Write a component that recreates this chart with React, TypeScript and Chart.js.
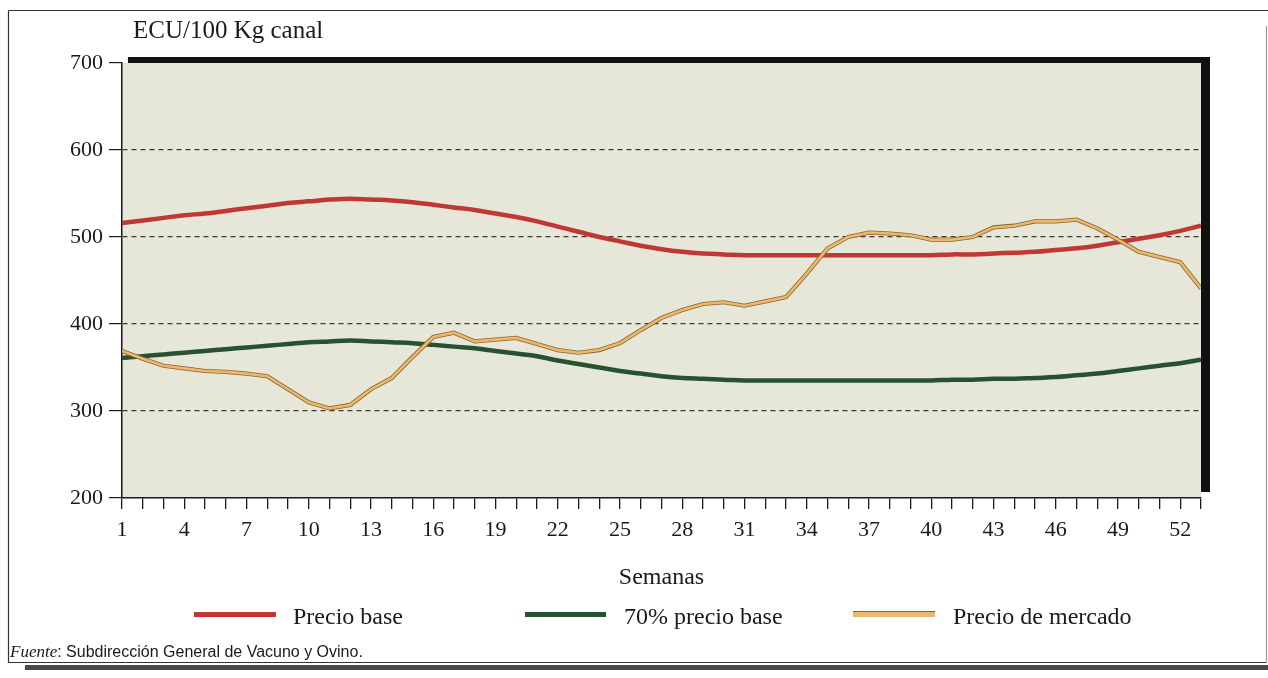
import React, { useEffect, useRef } from "react";
import { Chart, registerables } from "chart.js";

Chart.register(...registerables);

// ---- data ----
const weeks = [
  1, 2, 3, 4, 5, 6, 7, 8, 9, 10, 11, 12, 13, 14, 15, 16, 17, 18, 19, 20,
  21, 22, 23, 24, 25, 26, 27, 28, 29, 30, 31, 32, 33, 34, 35, 36, 37, 38, 39, 40,
  41, 42, 43, 44, 45, 46, 47, 48, 49, 50, 51, 52, 53,
];
const xTickLabels = [1, 4, 7, 10, 13, 16, 19, 22, 25, 28, 31, 34, 37, 40, 43, 46, 49, 52];

const precioBase = [
  516, 519, 522, 525, 527, 530, 533, 536, 539, 541,
  543, 544, 543, 542, 540, 537, 534, 531, 527, 523,
  518, 512, 506, 500, 495, 490, 486, 483, 481, 480,
  479, 479, 479, 479, 479, 479, 479, 479, 479, 479,
  480, 480, 481, 482, 483, 485, 487, 490, 494, 498,
  502, 507, 513,
];
const precio70 = [
  361, 363, 365, 367, 369, 371, 373, 375, 377, 379,
  380, 381, 380, 379, 378, 376, 374, 372, 369, 366,
  363, 358, 354, 350, 346, 343, 340, 338, 337, 336,
  335, 335, 335, 335, 335, 335, 335, 335, 335, 335,
  336, 336, 337, 337, 338, 339, 341, 343, 346, 349,
  352, 355, 359,
];
const precioMercado = [
  369, 360, 352, 349, 346, 345, 343, 340, 325, 310,
  303, 307, 325, 338, 362, 385, 390, 380, 382, 384,
  377, 370, 367, 370, 378, 393, 407, 416, 423, 425,
  421, 426, 431, 458, 487, 500, 505, 504, 502, 497,
  497, 500, 511, 513, 518, 518, 520, 510, 497, 483,
  477, 471, 441,
];
const yMin = 200;
const yMax = 700;
const yStep = 100;

const seriesNames = ["Precio base", "70% precio base", "Precio de mercado"];
const RED = "#bf3833";
const GREEN = "#27512f";
const TAN = "#ebb86e";
const TAN_EDGE = "#8a6430";

const SERIF = "'Liberation Serif', 'DejaVu Serif', serif";
const SANS = "'Liberation Sans', 'DejaVu Sans', sans-serif";
const INK = "#1a1a1a";

const pts = (vals: number[]) => weeks.map((w, i) => ({ x: w, y: vals[i] }));

const framePlugin = {
  id: "framePlugin",
  beforeDraw(chart: any) {
    const { ctx, chartArea: a, width } = chart;
    ctx.save();
    ctx.fillStyle = "#ffffff";
    ctx.fillRect(0, 0, chart.width, chart.height);
    ctx.fillStyle = "#e7e7d9";
    ctx.fillRect(a.left, a.top, a.right - a.left, a.bottom - a.top);
    // outer frame
    ctx.strokeStyle = "#333";
    ctx.lineWidth = 1.2;
    ctx.beginPath();
    ctx.moveTo(8.5, 10.5);
    ctx.lineTo(width, 10.5);
    ctx.stroke();
    ctx.beginPath();
    ctx.moveTo(8.5, 10.5);
    ctx.lineTo(8.5, 662.5);
    ctx.lineTo(1266.5, 662.5);
    ctx.stroke();
    ctx.strokeStyle = "#999";
    ctx.beginPath();
    ctx.moveTo(1266.5, 26);
    ctx.lineTo(1266.5, 662);
    ctx.stroke();
    ctx.fillStyle = "#4a4a4a";
    ctx.fillRect(25, 665, width - 25, 5);
    ctx.restore();
  },
  afterDatasetsDraw(chart: any) {
    const { ctx, chartArea: a } = chart;
    ctx.save();
    ctx.fillStyle = "#111";
    ctx.fillRect(a.left + 6, a.top - 6, a.right + 9 - (a.left + 6), 6);
    ctx.fillRect(a.right, a.top - 6, 9, a.bottom - 6 - (a.top - 6));
    ctx.restore();
  },
};

export default function App() {
  const ref = useRef<HTMLCanvasElement | null>(null);

  useEffect(() => {
    if (!ref.current) return;
    // Chart.js paints dataset 0 last (on top), so the market price comes first.
    const chart = new Chart(ref.current, {
      type: "line",
      data: {
        datasets: [
          {
            label: seriesNames[2],
            data: pts(precioMercado),
            borderColor: TAN,
            borderWidth: 2.6,
            pointRadius: 0,
            tension: 0,
          },
          {
            label: seriesNames[2] + " (borde)",
            data: pts(precioMercado),
            borderColor: TAN_EDGE,
            borderWidth: 4.2,
            pointRadius: 0,
            tension: 0,
          },
          {
            label: seriesNames[0],
            data: pts(precioBase),
            borderColor: RED,
            borderWidth: 4.5,
            pointRadius: 0,
            tension: 0.4,
          },
          {
            label: seriesNames[1],
            data: pts(precio70),
            borderColor: GREEN,
            borderWidth: 4.5,
            pointRadius: 0,
            tension: 0.4,
          },
        ],
      },
      plugins: [framePlugin],
      options: {
        responsive: false,
        animation: false,
        events: [],
        layout: { padding: { left: 0, top: 63, right: 67, bottom: 80 } },
        plugins: { legend: { display: false }, tooltip: { enabled: false }, title: { display: false } },
        scales: {
          x: {
            type: "linear",
            min: weeks[0],
            max: weeks[weeks.length - 1],
            afterFit: (s: any) => {
              s.height = 100;
            },
            ticks: {
              stepSize: 1,
              autoSkip: false,
              maxRotation: 0,
              padding: 8,
              color: INK,
              font: { family: SERIF, size: 22 },
              callback: (v: any) => (xTickLabels.includes(Number(v)) ? String(v) : ""),
            },
            grid: {
              drawOnChartArea: false,
              drawTicks: true,
              tickLength: 11,
              color: INK,
              tickColor: INK,
              lineWidth: 1.3,
            },
            border: { display: true, color: INK, width: 1.5 },
            title: {
              display: true,
              text: "Semanas",
              color: INK,
              font: { family: SERIF, size: 24 },
              padding: { top: 0, bottom: 6 },
            },
          },
          y: {
            min: yMin,
            max: yMax,
            afterFit: (s: any) => {
              s.width = 122;
            },
            ticks: {
              stepSize: yStep,
              padding: 6,
              color: INK,
              font: { family: SERIF, size: 22 },
            },
            grid: {
              drawTicks: true,
              tickLength: 13,
              tickColor: INK,
              lineWidth: 1.2,
              color: (c: any) =>
                c.tick && (c.tick.value === yMin || c.tick.value === yMax) ? "rgba(0,0,0,0)" : "#3a3a3a",
            },
            border: { display: true, color: INK, width: 1.5, dash: [5, 4] },
          },
        },
      },
    });
    return () => chart.destroy();
  }, []);

  const legendItems = [
    { name: seriesNames[0], color: RED, lineLeft: 194, lineWidth: 82, textLeft: 293 },
    { name: seriesNames[1], color: GREEN, lineLeft: 525, lineWidth: 81, textLeft: 624 },
    { name: seriesNames[2], color: TAN, lineLeft: 853, lineWidth: 82, textLeft: 953 },
  ];

  return (
    <div
      style={{
        position: "fixed",
        left: 0,
        top: 0,
        width: 1268,
        height: 678,
        background: "#fff",
        overflow: "hidden",
      }}
    >
      <canvas ref={ref} width={1268} height={678} style={{ position: "absolute", left: 0, top: 0, display: "block" }} />
      <div
        style={{
          position: "absolute",
          left: 133,
          top: 15,
          font: `25px ${SERIF}`,
          lineHeight: "30px",
          color: INK,
          whiteSpace: "nowrap",
        }}
      >
        ECU/100 Kg canal
      </div>
      {legendItems.map((it) => (
        <React.Fragment key={it.name}>
          <div
            style={{
              position: "absolute",
              left: it.lineLeft,
              top: 612,
              width: it.lineWidth,
              height: 5,
              background: it.color,
              boxShadow: it.color === TAN ? `0 -1px 0 ${TAN_EDGE}` : "none",
            }}
          />
          <div
            style={{
              position: "absolute",
              left: it.textLeft,
              top: 602,
              font: `24px ${SERIF}`,
              lineHeight: "28px",
              color: INK,
              whiteSpace: "nowrap",
            }}
          >
            {it.name}
          </div>
        </React.Fragment>
      ))}
      <div
        style={{
          position: "absolute",
          left: 10,
          top: 642,
          font: `16px ${SANS}`,
          lineHeight: "20px",
          color: INK,
          whiteSpace: "nowrap",
        }}
      >
        <span style={{ fontFamily: SERIF, fontStyle: "italic", fontSize: 17 }}>Fuente</span>: Subdirección General de
        Vacuno y Ovino.
      </div>
    </div>
  );
}
